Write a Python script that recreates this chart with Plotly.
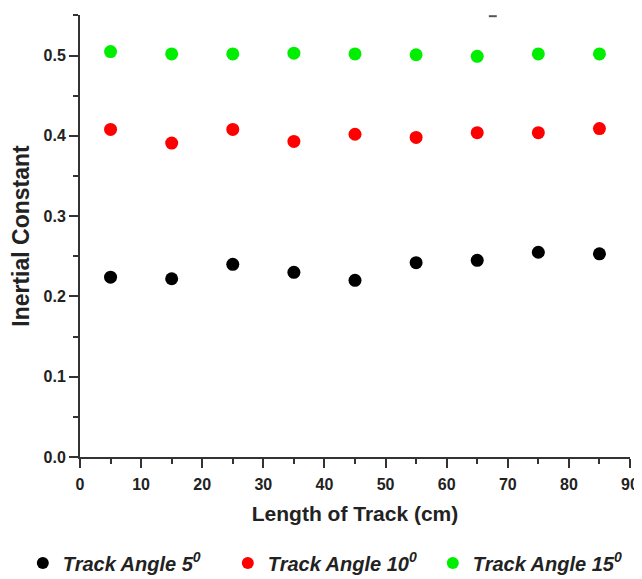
import plotly.graph_objects as go

track_length = [5, 15, 25, 35, 45, 55, 65, 75, 85]
angle_5 = [0.224, 0.222, 0.240, 0.230, 0.220, 0.242, 0.245, 0.255, 0.253]
angle_10 = [0.408, 0.391, 0.408, 0.393, 0.402, 0.398, 0.404, 0.404, 0.409]
angle_15 = [0.505, 0.502, 0.502, 0.503, 0.502, 0.501, 0.499, 0.502, 0.502]
series_names = ["Track Angle 5<sup>0</sup>", "Track Angle 10<sup>0</sup>", "Track Angle 15<sup>0</sup>"]
series_colors = ["#000000", "#ff0000", "#00ee00"]
x_ticks = [0, 10, 20, 30, 40, 50, 60, 70, 80, 90]
y_ticks = [0.0, 0.1, 0.2, 0.3, 0.4, 0.5]

FONT = "Liberation Sans, Arial, sans-serif"
INK = "#222222"
AXC = "#333333"

fig = go.Figure()
for name, vals, col in zip(series_names, [angle_5, angle_10, angle_15], series_colors):
    fig.add_trace(go.Scatter(
        x=track_length, y=vals, mode="markers", name=name,
        marker=dict(color=col, size=13, line=dict(width=0)),
    ))

axis_common = dict(
    showline=True, linecolor=AXC, linewidth=2,
    ticks="outside", ticklen=9, tickwidth=2, tickcolor=AXC,
    showgrid=False, zeroline=False, mirror=False,
    tickfont=dict(family=FONT, size=16, color=INK, weight="bold"),
)

fig.update_xaxes(
    range=[0, 90], tickvals=x_ticks, ticktext=[str(v) for v in x_ticks],
    minor=dict(dtick=5, tick0=0, ticklen=5, tickwidth=2, tickcolor=AXC, ticks="outside"),
    ticklabelstandoff=3,
    title=dict(text="<b>Length of Track (cm)</b>", font=dict(family=FONT, size=21, color=INK), standoff=14),
    **axis_common,
)
fig.update_yaxes(
    range=[0, 0.5505], tickvals=y_ticks, ticktext=[f"{v:.1f}" for v in y_ticks],
    minor=dict(dtick=0.05, tick0=0, ticklen=5, tickwidth=2, tickcolor=AXC, ticks="outside"),
    title=dict(text="<b>Inertial Constant</b>", font=dict(family=FONT, size=23, color=INK), standoff=10),
    **axis_common,
)

# small stray dash near the top of the plot in the reference
fig.add_shape(type="line", xref="x", yref="y", x0=66.9, x1=68.2, y0=0.549, y1=0.549,
              line=dict(color="#555555", width=2))

fig.update_layout(
    width=634, height=571,
    margin=dict(l=72, r=12, t=7, b=122, autoexpand=False),
    paper_bgcolor="white", plot_bgcolor="white",
    showlegend=True,
    legend=dict(
        orientation="h", x=-0.104, y=-0.24, xanchor="left", yanchor="middle",
        font=dict(family=FONT, size=20, color=INK, style="italic", weight="bold"),
        itemsizing="constant", entrywidth=160, entrywidthmode="pixels",
        bgcolor="rgba(0,0,0,0)", borderwidth=0,
    ),
)

fig.write_html("out.html")
